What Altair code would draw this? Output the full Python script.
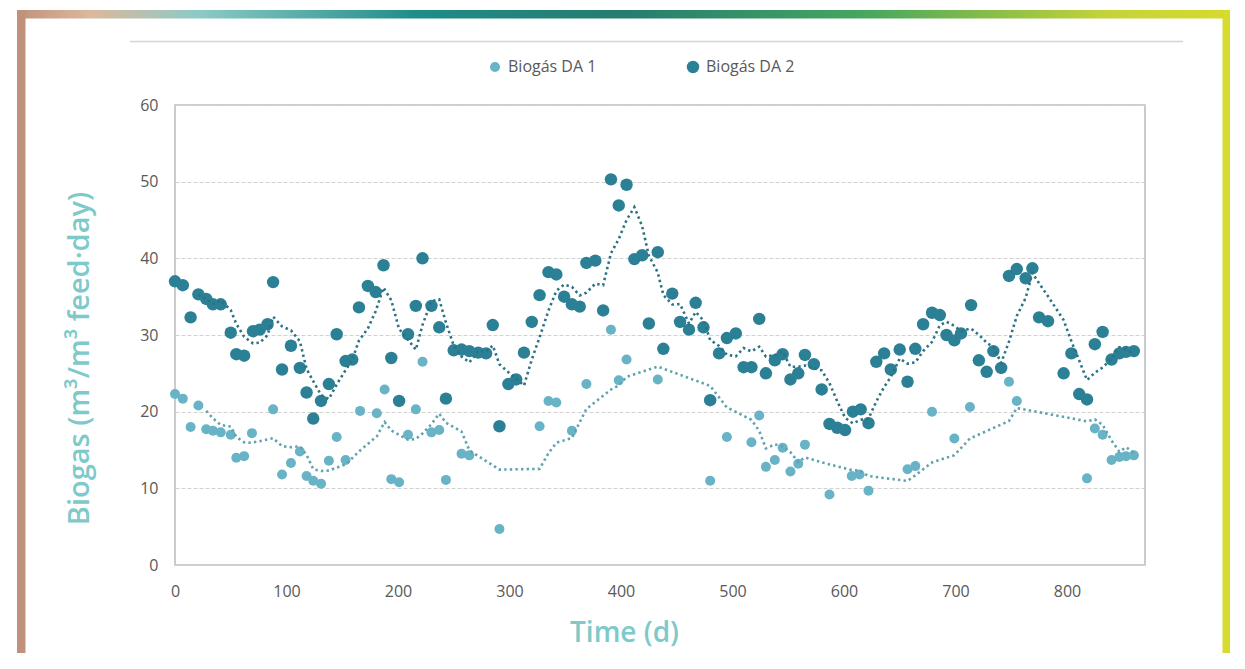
import altair as alt
import pandas as pd

# ---------------- data ----------------
series_names = ["Biogás DA 1", "Biogás DA 2"]
ma_periods = [5, 4]          # moving-average trendline periods

da1_day = [0, 7, 14, 21, 28, 34, 41, 50, 55, 62, 69, 88, 96, 104, 112, 118, 124, 131,
           138, 145, 153, 166, 181, 188, 194, 201, 209, 216, 222, 230, 237, 243, 257,
           264, 291, 327, 335, 342, 356, 369, 391, 398, 405, 433, 480, 495, 517, 524,
           530, 538, 545, 552, 559, 565, 587, 607, 614, 622, 657, 664, 679, 699, 713,
           748, 755, 818, 825, 832, 840, 847, 853, 860]
da1_biogas = [22.3, 21.7, 18.0, 20.8, 17.7, 17.5, 17.3, 17.0, 14.0, 14.2, 17.2, 20.3,
              11.8, 13.3, 14.8, 11.6, 11.0, 10.6, 13.6, 16.7, 13.7, 20.1, 19.8, 22.9,
              11.2, 10.8, 17.0, 20.3, 26.5, 17.3, 17.6, 11.1, 14.5, 14.3, 4.7, 18.1,
              21.4, 21.2, 17.5, 23.6, 30.7, 24.1, 26.8, 24.2, 11.0, 16.7, 16.0, 19.5,
              12.8, 13.7, 15.3, 12.2, 13.2, 15.7, 9.2, 11.6, 11.8, 9.7, 12.5, 12.9,
              20.0, 16.5, 20.6, 23.9, 21.4, 11.3, 17.8, 17.0, 13.7, 14.1, 14.2, 14.3]

da2_day = [0, 7, 14, 21, 28, 34, 41, 50, 55, 62, 70, 76, 83, 88, 96, 104, 112, 118,
           124, 131, 138, 145, 153, 159, 165, 173, 180, 187, 194, 201, 209, 216, 222,
           230, 237, 243, 250, 257, 264, 272, 279, 285, 291, 299, 306, 313, 320, 327,
           335, 342, 349, 356, 363, 369, 377, 384, 391, 398, 405, 412, 419, 425, 433,
           438, 446, 453, 461, 467, 474, 480, 488, 495, 503, 510, 517, 524, 530, 538,
           545, 552, 559, 565, 573, 580, 587, 594, 601, 608, 615, 622, 629, 636, 642,
           650, 657, 664, 671, 679, 686, 692, 699, 705, 714, 721, 728, 734, 741, 748,
           755, 763, 769, 775, 783, 797, 804, 811, 818, 825, 832, 840, 847, 853, 860]
da2_biogas = [37.0, 36.5, 32.3, 35.3, 34.7, 34.0, 34.0, 30.3, 27.5, 27.3, 30.5, 30.7,
              31.4, 36.9, 25.5, 28.6, 25.7, 22.5, 19.1, 21.4, 23.6, 30.1, 26.6, 26.8,
              33.6, 36.4, 35.6, 39.1, 27.0, 21.4, 30.1, 33.8, 40.0, 33.8, 31.0, 21.7,
              28.0, 28.1, 27.9, 27.7, 27.6, 31.3, 18.1, 23.6, 24.2, 27.7, 31.7, 35.2,
              38.2, 37.9, 35.0, 34.0, 33.7, 39.4, 39.7, 33.2, 50.3, 46.9, 49.6, 39.9,
              40.4, 31.5, 40.8, 28.2, 35.4, 31.7, 30.7, 34.2, 31.0, 21.5, 27.6, 29.6,
              30.2, 25.8, 25.8, 32.1, 25.0, 26.7, 27.5, 24.2, 25.0, 27.4, 26.2, 22.9,
              18.4, 17.9, 17.6, 20.0, 20.3, 18.5, 26.5, 27.6, 25.5, 28.1, 23.9, 28.2,
              31.4, 32.9, 32.6, 30.0, 29.3, 30.2, 33.9, 26.7, 25.2, 27.9, 25.7, 37.7,
              38.6, 37.4, 38.7, 32.3, 31.8, 25.0, 27.6, 22.3, 21.6, 28.8, 30.4, 26.8,
              27.6, 27.8, 27.9]

x_ticks = [0, 100, 200, 300, 400, 500, 600, 700, 800]
y_ticks = [0, 10, 20, 30, 40, 50, 60]

point_colors = ["#69b3c7", "#2b8096"]
trend_colors = ["#5ea3ae", "#2b7282"]
point_sizes = [100, 155]

# ---------------- table ----------------
df = pd.DataFrame({
    "day": da1_day + da2_day,
    "biogas": da1_biogas + da2_biogas,
    "series": [series_names[0]] * len(da1_day) + [series_names[1]] * len(da2_day),
    "k": list(range(len(da1_day))) + list(range(len(da1_day), len(da1_day) + len(da2_day))),
})

FONT = "Open Sans"
TITLE_COLOR = "#7ec9ca"

x_enc = alt.X(
    "day:Q",
    scale=alt.Scale(domain=[0, 870], nice=False, zero=False),
    axis=alt.Axis(
        values=x_ticks, title="Time (d)", grid=False, ticks=False, domain=False,
        labelFlush=False,
        labelFont=FONT, labelFontSize=16, labelColor="#595959", labelPadding=18,
        titleFont=FONT, titleFontSize=28, titleFontWeight=600, titleColor=TITLE_COLOR,
        titleX=449, titleY=68, titleAlign="center", titleBaseline="middle",
    ),
)


def y_enc(field):
    return alt.Y(
        field,
        scale=alt.Scale(domain=[0, 60], nice=False),
        axis=alt.Axis(
            values=y_ticks, title="Biogas (m³/m³ feed·day)", grid=True,
            gridColor="#d2d2d2", gridDash=[4, 2], gridWidth=1,
            ticks=False, domain=False, labelFlush=False,
            labelFont=FONT, labelFontSize=16, labelColor="#595959", labelPadding=17,
            titleFont=FONT, titleFontSize=29, titleFontWeight=600, titleColor=TITLE_COLOR,
            titleAngle=270, titleX=-96, titleY=253, titleAlign="center",
            titleBaseline="middle",
        ),
    )


legend_cfg = dict(
    title=None, orient="none", direction="horizontal",
    legendX=312, legendY=-46, padding=0,
    labelFont=FONT, labelFontSize=16, labelColor="#595959",
    labelOffset=5, columnPadding=88, symbolType="circle",
    symbolStrokeWidth=0, symbolOpacity=1,
)

points = alt.Chart(df).mark_circle(opacity=1).encode(
    x=x_enc,
    y=y_enc("biogas:Q"),
    color=alt.Color(
        "series:N",
        scale=alt.Scale(domain=series_names, range=point_colors),
        legend=alt.Legend(**legend_cfg),
    ),
    size=alt.Size(
        "series:N",
        scale=alt.Scale(domain=series_names, range=point_sizes),
        legend=alt.Legend(**legend_cfg),
    ),
    order=alt.Order("k:Q"),
)


def trend(idx):
    name = series_names[idx]
    period = ma_periods[idx]
    return (
        alt.Chart(df)
        .transform_filter(alt.datum.series == name)
        .transform_window(
            ma="mean(biogas)", n="count()", frame=[-(period - 1), 0],
            sort=[alt.SortField("day")],
        )
        .transform_filter(alt.datum.n >= period)
        .mark_line(color=trend_colors[idx], strokeWidth=2.6, strokeDash=[2.4, 3.2])
        .encode(x=x_enc, y=y_enc("ma:Q"), order=alt.Order("day:Q"))
    )


# ---------------- decorative frame (page border) ----------------
one = alt.Data(values=[{"k": 0}])
frame_gradient = alt.LinearGradient(
    gradient="linear", x1=0, x2=1, y1=0, y2=0,
    stops=[
        alt.GradientStop(color="#c0917a", offset=0.0),
        alt.GradientStop(color="#dcb89c", offset=0.06),
        alt.GradientStop(color="#8ccac6", offset=0.15),
        alt.GradientStop(color="#1f8c88", offset=0.33),
        alt.GradientStop(color="#267c70", offset=0.5),
        alt.GradientStop(color="#47a660", offset=0.7),
        alt.GradientStop(color="#86bd48", offset=0.8),
        alt.GradientStop(color="#c5d33a", offset=0.9),
        alt.GradientStop(color="#d6da2e", offset=1.0),
    ],
)
top_bar = alt.Chart(one).mark_rect(color=frame_gradient).encode(
    x=alt.value(-158), x2=alt.value(1055), y=alt.value(-95), y2=alt.value(-86.5)
)
left_bar = alt.Chart(one).mark_rect(color="#c0927b").encode(
    x=alt.value(-158), x2=alt.value(-149.5), y=alt.value(-95), y2=alt.value(600)
)
right_bar = alt.Chart(one).mark_rect(color="#d5dc2e").encode(
    x=alt.value(1047.5), x2=alt.value(1055), y=alt.value(-95), y2=alt.value(600)
)
top_rule = alt.Chart(one).mark_rule(color="#d4d4d4", strokeWidth=1.5).encode(
    x=alt.value(-45), x2=alt.value(1008), y=alt.value(-63.5)
)

chart = (
    alt.layer(top_bar, left_bar, right_bar, top_rule, points, trend(0), trend(1))
    .resolve_scale(x="shared", y="shared")
    .properties(
        width=970, height=460,
        autosize=alt.AutoSizeParams(type="none"),
        padding={"left": 167, "top": 97, "right": 88, "bottom": 88},
        background="white",
    )
    .configure_view(stroke="#bfbfbf", strokeWidth=1.6)
)

chart.save("out.html", embed_options={"renderer": "svg", "actions": False})
